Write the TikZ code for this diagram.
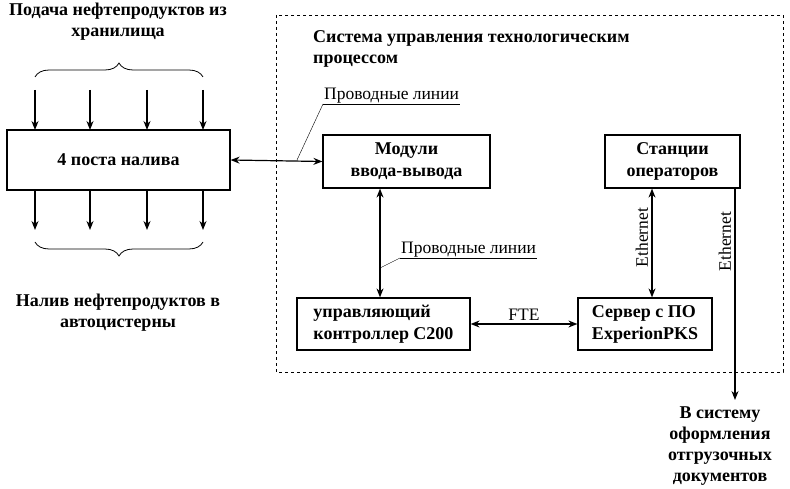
\documentclass[tikz,border=0pt]{standalone}
\usepackage{fontspec}
\setmainfont{Liberation Serif}
\usetikzlibrary{decorations.pathreplacing,arrows.meta}
\begin{document}
\begin{tikzpicture}[x=1pt,y=-1pt,
 box/.style={draw,line width=1.2pt,font=\fontsize{18}{22}\selectfont\bfseries,align=center,inner sep=0pt},
 bt/.style={font=\fontsize{18}{21}\selectfont\bfseries,align=center},
 lab/.style={font=\fontsize{17.5}{20}\selectfont},
 arr/.style={-{Stealth[length=9pt,width=7pt]},line width=1.2pt},
 darr/.style={{Stealth[length=9pt,width=7pt]}-{Stealth[length=9pt,width=7pt]},line width=1.2pt}]
\useasboundingbox (0,0) rectangle (790,489);
\node[bt] (top) at (118,22) {Подача нефтепродуктов из\\хранилища};
\node[box,minimum width=223pt,minimum height=60pt] (post) at (118.5,160) {4 поста налива};
\draw[decorate,decoration={brace,amplitude=14pt},line width=0.8pt] (35,77) -- (203,77);
\draw[decorate,decoration={brace,amplitude=14pt,mirror},line width=0.8pt] (35,242) -- (203,242);
\foreach \x in {35,90,147,203}{
 \draw[arr] (\x,90) -- (\x,130);
 \draw[arr] (\x,190) -- (\x,230);}
\node[bt] (bot) at (118,313) {Налив нефтепродуктов в\\автоцистерны};
\draw[dashed] (276,15) rectangle (783,372);
\node[bt,align=left,anchor=north west,inner sep=0pt] (title) at (313,30) {Система управления технологическим\\процессом};
\node[box,minimum width=167pt,minimum height=53pt] (mod) at (406.5,161.5) {Модули\\ввода-вывода};
\node[box,minimum width=135pt,minimum height=53pt] (st) at (672.5,161.5) {Станции\\операторов};
\node[box,minimum width=173pt,minimum height=52pt,align=left] (ctl) at (383.5,324) {управляющий\\контроллер С200};
\node[box,minimum width=134pt,minimum height=52pt,align=left] (srv) at (645,324) {Сервер с ПО\\ExperionPKS};
\draw[darr] (post.east) -- (mod.west);
\draw[darr] (mod.south -| 380,0) -- (ctl.north -| 380,0);
\draw[darr] (ctl.east) -- node[lab,above] {FTE} (srv.west);
\draw[darr] (st.south -| 652,0) -- node[lab,rotate=90,anchor=south,pos=0.45] {Ethernet} (srv.north -| 652,0);
\coordinate (out) at (735,400);
\draw[arr] (st.south -| 735,0) -- node[lab,rotate=90,anchor=south,pos=0.25] {Ethernet} (out);
\node[bt] (doc) at (720,446) {В систему\\оформления\\отгрузочных\\документов};
\node[lab,anchor=south west,inner sep=1pt] (l1) at (323,104) {Проводные линии};
\draw (l1.south west) -- (l1.south east);
\draw (l1.south west) -- (297,160);
\node[lab,anchor=south west,inner sep=1pt] (l2) at (400,258) {Проводные линии};
\draw (l2.south west) -- (l2.south east);
\draw (l2.south west) -- (380,268);
\end{tikzpicture}
\end{document}
